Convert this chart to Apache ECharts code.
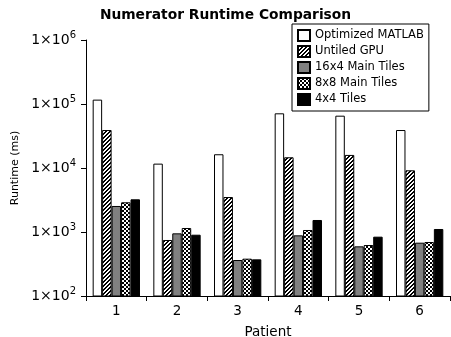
<!DOCTYPE html>
<html>
<head>
<meta charset="utf-8">
<script src="https://cdn.jsdelivr.net/npm/echarts@6/dist/echarts.min.js"></script>
<style>
  html, body { margin: 0; padding: 0; background: #fff; }
  #main { width: 451px; height: 337px; }
</style>
</head>
<body>
<div id="main"></div>
<script>
// patients on x axis
var patients = ['1', '2', '3', '4', '5', '6'];
var seriesNames = ['Optimized MATLAB', 'Untiled GPU', '16x4 Main Tiles', '8x8 Main Tiles', '4x4 Tiles'];
// runtimes in ms
var optimizedMatlab = [117000, 11700, 16400, 71500, 65700, 39200];
var untiledGpu      = [39200, 750, 3520, 14700, 16000, 9200];
var tiles16x4       = [2550, 953, 365, 887, 597, 681];
var tiles8x8        = [2910, 1155, 383, 1075, 626, 698];
var tiles4x4        = [3240, 907, 374, 1540, 845, 1114];

// fill patterns
function makeHatch() {
  var c = document.createElement('canvas');
  c.width = 4; c.height = 4;
  var ctx = c.getContext('2d');
  ctx.fillStyle = '#fff';
  ctx.fillRect(0, 0, 4, 4);
  ctx.fillStyle = '#000';
  for (var y = 0; y < 4; y++) {
    for (var x = 0; x < 4; x++) {
      if ((x + y) % 4 < 2) ctx.fillRect(x, y, 1, 1);
    }
  }
  return c;
}
function makeChecker() {
  var c = document.createElement('canvas');
  c.width = 4; c.height = 4;
  var ctx = c.getContext('2d');
  ctx.fillStyle = '#fff';
  ctx.fillRect(0, 0, 4, 4);
  ctx.fillStyle = '#000';
  ctx.fillRect(0, 0, 2, 2);
  ctx.fillRect(2, 2, 2, 2);
  return c;
}

var fills = [
  '#ffffff',
  { image: makeHatch(), repeat: 'repeat' },
  '#808080',
  { image: makeChecker(), repeat: 'repeat' },
  '#000000'
];
var allData = [optimizedMatlab, untiledGpu, tiles16x4, tiles8x8, tiles4x4];

var myChart = echarts.init(document.getElementById('main'), null, { renderer: 'canvas' });

var series = seriesNames.map(function (name, i) {
  return {
    name: name,
    type: 'bar',
    data: allData[i],
    barGap: '0%',
    barCategoryGap: '22%',
    itemStyle: {
      color: fills[i],
      borderColor: '#000',
      borderWidth: 1
    }
  };
});

var option = {
  backgroundColor: '#fff',
  animation: false,
  title: {
    text: 'Numerator Runtime Comparison',
    left: 'center',
    top: 3,
    textStyle: { fontFamily: 'DejaVu Sans', fontSize: 13.8, fontWeight: 'bold', color: '#000' }
  },
  legend: {
    orient: 'vertical',
    left: 292,
    top: 24,
    data: seriesNames,
    icon: 'rect',
    itemWidth: 12,
    itemHeight: 11,
    itemGap: 3,
    padding: [5, 5, 5, 5],
    borderColor: '#000',
    borderWidth: 1,
    backgroundColor: '#fff',
    textStyle: { fontFamily: 'DejaVu Sans', fontSize: 11.5, lineHeight: 11, color: '#000' }
  },
  grid: { left: 86, right: 1, top: 40, bottom: 41, containLabel: false, outerBoundsMode: 'none' },
  xAxis: {
    type: 'category',
    data: patients,
    name: 'Patient',
    nameLocation: 'middle',
    nameGap: 29,
    nameTextStyle: { fontFamily: 'DejaVu Sans', fontSize: 13.5, color: '#000' },
    axisLine: { lineStyle: { color: '#000', width: 1 } },
    axisTick: { show: true, length: 5, lineStyle: { color: '#000' } },
    axisLabel: { fontFamily: 'DejaVu Sans', fontSize: 13.5, color: '#000', margin: 8 }
  },
  yAxis: {
    type: 'log',
    logBase: 10,
    min: 100,
    max: 1000000,
    name: 'Runtime (ms)',
    nameLocation: 'middle',
    nameGap: 64,
    nameTextStyle: { fontFamily: 'DejaVu Sans', fontSize: 11, color: '#000' },
    splitLine: { show: false },
    axisLine: { show: true, lineStyle: { color: '#000', width: 1 } },
    axisTick: { show: true, length: 5, lineStyle: { color: '#000' } },
    axisLabel: {
      fontFamily: 'DejaVu Sans',
      fontSize: 14,
      color: '#000',
      margin: 10,
      formatter: function (v) {
        return '1×10{s|' + Math.round(Math.log10(v)) + '}';
      },
      rich: {
        s: { fontFamily: 'DejaVu Sans', fontSize: 10, color: '#000', padding: [0, 0, 9, 0] }
      }
    }
  },
  series: series
};

myChart.setOption(option);
</script>
</body>
</html>
